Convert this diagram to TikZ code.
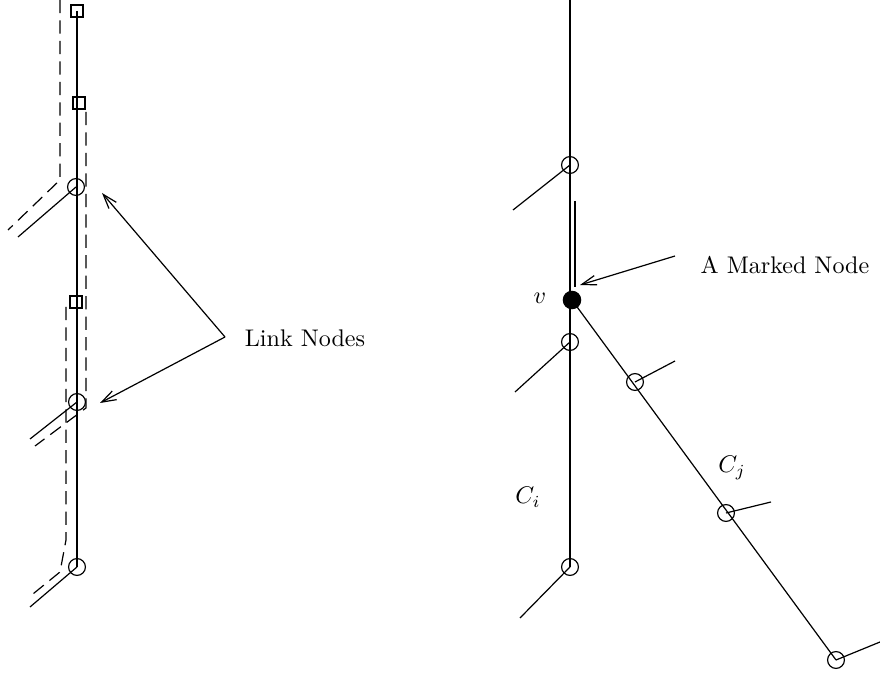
\documentclass[tikz,border=0pt]{standalone}
\usepackage{tikz}
\usetikzlibrary{arrows.meta}

\begin{document}
\begin{tikzpicture}[
    x=0.0146cm, y=-0.0146cm, line width=0.5pt,
    linknode/.style={draw, circle, inner sep=0pt, minimum size=7pt},
    boxnode/.style={draw, rectangle, inner sep=0pt, minimum size=5pt},
    marked/.style={draw, circle, fill=black, inner sep=0pt, minimum size=7.2pt},
    tour/.style={dash pattern=on 5.5pt off 3pt},
    pointer/.style={-{Straight Barb[length=6pt, width=4pt]}},
    tag/.style={inner sep=1pt}
]
\useasboundingbox (0,0) rectangle (880,675);
% left chain
\node[boxnode] (s1) at (77,11) {};
\node[boxnode] (s2) at (79,103) {};
\node[linknode] (c1) at (76,187) {};
\node[boxnode] (s3) at (76,302) {};
\node[linknode] (c2) at (77,402) {};
\node[linknode] (c3) at (77,567) {};
\coordinate (b1) at (18,237);
\coordinate (b2) at (30,439);
\coordinate (b3) at (30,607);
\draw (s1.center) -- (c3.center);
\draw (c1.center) -- (b1);
\draw (c2.center) -- (b2);
\draw (c3.center) -- (b3);
\draw[tour] (60,0) -- (60,180) -- (8,230);
\draw[tour] (86,112) -- (86,408) -- (35,446);
\draw[tour] (66,307) -- (66,540) -- (60,572) -- (28,598);
% link nodes
\node[tag] (links) at (305,338) {Link Nodes};
\coordinate (lk) at (225,337);
\draw[pointer] (lk) -- (102,193);
\draw[pointer] (lk) -- (100,403);
% right chain
\coordinate (top) at (570,0);
\node[linknode] (r1) at (570,165) {};
\node[marked] (v) at (572,300) {};
\node[linknode] (r2) at (570,342) {};
\node[linknode] (r3) at (570,567) {};
\node[linknode] (d1) at (635,382) {};
\node[linknode] (d2) at (726,513) {};
\node[linknode] (d3) at (836,660) {};
\draw (top) -- (r3.center);
\draw (v.center) -- (d3.center);
\draw (r1.center) -- (513,210);
\draw (r2.center) -- (515,392);
\draw (r3.center) -- (520,618);
\draw (d1.center) -- (675,361);
\draw (d2.center) -- (771,502);
\draw (d3.center) -- (880,642);
\draw (575,201) -- (575,287);
\node[tag] (vlabel) at (540,298) {$v$};
\node[tag] (mark) at (785,265) {A Marked Node};
\coordinate (mk) at (675,256);
\draw[pointer] (mk) -- (580,285);
\node[tag] (ci) at (528,497) {$C_i$};
\node[tag] (cj) at (732,468) {$C_j$};
\end{tikzpicture}
\end{document}
